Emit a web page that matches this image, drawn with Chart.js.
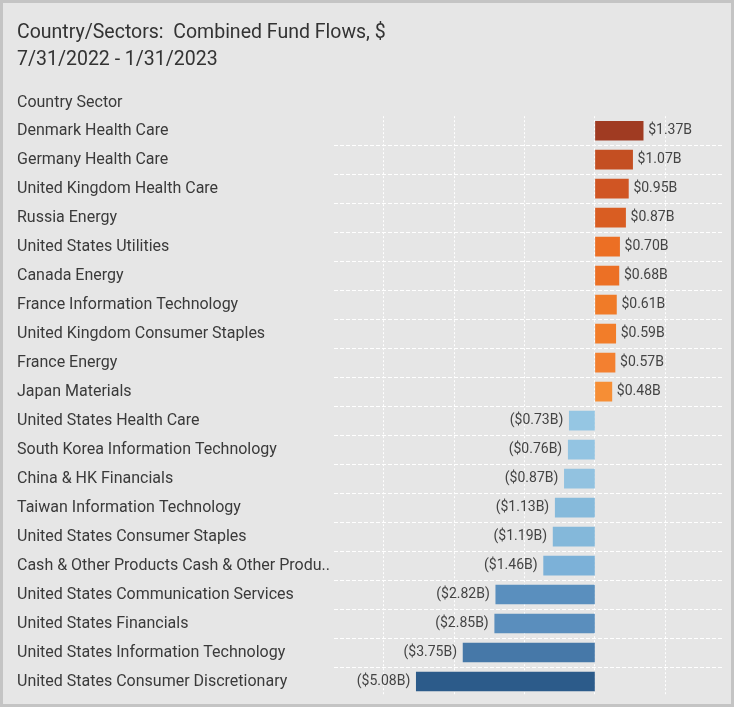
<!DOCTYPE html>
<html>
<head>
<meta charset="utf-8">
<script src="https://cdn.jsdelivr.net/npm/chart.js@4.4.1/dist/chart.umd.min.js"></script>
<style>
  html, body { margin: 0; padding: 0; background: #fff; }
  #box {
    width: 728px; height: 701px;
    border: 3px solid #c4c4c4;
    background: #e6e6e6;
    position: relative;
  }
  #box canvas { display: block; }
</style>
</head>
<body>
<div id="box"><canvas id="flows" width="728" height="701"></canvas></div>
<script>
// data
const sectors = [
    "Denmark Health Care",
    "Germany Health Care",
    "United Kingdom Health Care",
    "Russia Energy",
    "United States Utilities",
    "Canada Energy",
    "France Information Technology",
    "United Kingdom Consumer Staples",
    "France Energy",
    "Japan Materials",
    "United States Health Care",
    "South Korea Information Technology",
    "China & HK Financials",
    "Taiwan Information Technology",
    "United States Consumer Staples",
    "Cash & Other Products Cash & Other Produ..",
    "United States Communication Services",
    "United States Financials",
    "United States Information Technology",
    "United States Consumer Discretionary"
];
const flows = [1.37, 1.07, 0.95, 0.87, 0.70, 0.68, 0.61, 0.59, 0.57, 0.48,
    -0.73, -0.76, -0.87, -1.13, -1.19, -1.46, -2.82, -2.85, -3.75, -5.08];
const barColors = [
    "#a03b22", "#c44f22", "#d05523", "#d95d22", "#ec6f24",
    "#ec7025", "#f07b28", "#f27d29", "#f38030", "#f68e35",
    "#95c6e3", "#93c4e2", "#92c2e0", "#86badb", "#84b8da",
    "#7cb1d8", "#5a8fbe", "#5a8ebd", "#4678a8", "#2c5b8a"
];
const gridTicks = [-6, -4, -2, 0, 2];

const FONT = "Roboto, 'Noto Sans', sans-serif";

function fmt(v) {
    const s = "$" + Math.abs(v).toFixed(2) + "B";
    return v < 0 ? "(" + s + ")" : s;
}

// value labels next to the bars
const valueLabels = {
    id: "valueLabels",
    afterDatasetsDraw(chart) {
        const ctx = chart.ctx;
        const meta = chart.getDatasetMeta(0);
        ctx.save();
        ctx.font = "14px " + FONT;
        ctx.fillStyle = "#444";
        ctx.textBaseline = "middle";
        meta.data.forEach((bar, i) => {
            const v = flows[i];
            if (v >= 0) {
                ctx.textAlign = "left";
                ctx.fillText(fmt(v), bar.x + 5, bar.y);
            } else {
                ctx.textAlign = "right";
                ctx.fillText(fmt(v), bar.x - 6, bar.y);
            }
        });
        ctx.restore();
    }
};

new Chart("flows", {
    type: "bar",
    data: {
        labels: sectors,
        datasets: [{
            data: flows,
            backgroundColor: barColors,
            barThickness: 19
        }]
    },
    options: {
        indexAxis: "y",
        responsive: false,
        animation: false,
        layout: { padding: { left: 14, right: 8, top: 0, bottom: 8 } },
        plugins: {
            legend: false,
            tooltip: { enabled: false },
            title: {
                display: true,
                align: "start",
                text: ["Country/Sectors:  Combined Fund Flows, $", "7/31/2022 - 1/31/2023"],
                color: "#333",
                font: { family: FONT, size: 19.5, weight: "normal", lineHeight: 1.385 },
                padding: { top: 17, bottom: 10 }
            },
            subtitle: {
                display: true,
                align: "start",
                text: "Country Sector",
                color: "#3a3a3a",
                font: { family: FONT, size: 16, weight: "normal", lineHeight: 1.2 },
                padding: { top: 9, bottom: 4 }
            }
        },
        scales: {
            x: {
                min: -7.42,
                max: 3.64,
                afterBuildTicks: (scale) => {
                    scale.ticks = gridTicks.map(v => ({ value: v }));
                },
                afterFit: (scale) => { scale.height = 0; },
                ticks: { display: false },
                grid: {
                    color: "#ffffff",
                    lineWidth: 1,
                    drawTicks: false
                },
                border: { display: false, dash: [2, 2] }
            },
            y: {
                afterFit: (scale) => {
                    scale.width = 317;
                    scale.paddingTop = 0;
                    scale.paddingBottom = 0;
                },
                ticks: {
                    crossAlign: "far",
                    color: "#3a3a3a",
                    font: { family: FONT, size: 16 },
                    autoSkip: false
                },
                grid: {
                    color: (c) => (c.index === undefined || c.index === 0) ? "rgba(0,0,0,0)" : "#ffffff",
                    lineWidth: 1,
                    drawTicks: false
                },
                border: { display: false, dash: [4, 2] }
            }
        }
    },
    plugins: [valueLabels]
});
</script>
</body>
</html>
